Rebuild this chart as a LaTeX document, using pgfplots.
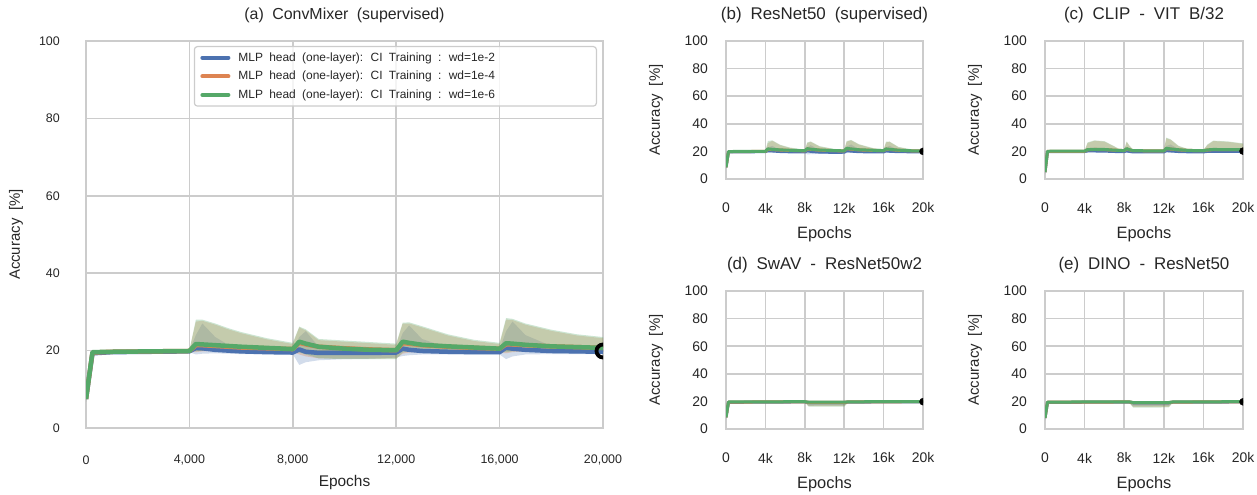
\documentclass[border=0pt]{standalone}
\usepackage{fontspec}
\setmainfont{Liberation Sans}[WordSpace=1.9]
\usepackage{pgfplots}
\usepackage{pgfplotstable}
\pgfplotsset{compat=1.18}
\usepgfplotslibrary{fillbetween}

\definecolor{sbblue}{HTML}{4C72B0}
\definecolor{sborange}{HTML}{DD8452}
\definecolor{sbgreen}{HTML}{55A868}
\definecolor{gridgray}{HTML}{CCCCCC}
\definecolor{txt}{HTML}{262626}

\pgfplotstableread{
x bm bl bu om ol ou gm gl gu
0 7.5 6.8 8.2 7.5 6.8 8.2 7.5 6.8 8.2
250 19.3 19.0 19.6 19.5 19.2 19.8 19.6 19.3 19.9
1000 19.6 19.4 19.8 19.7 19.5 19.9 19.7 19.5 19.9
4000 19.8 19.6 20.0 19.9 19.7 20.1 19.9 19.7 20.1
4250 20.7 19.0 24.0 21.4 19.6 27.5 21.7 19.8 28.0
4500 20.6 19.2 27.0 21.4 19.8 27.7 21.6 20.0 28.0
5000 20.2 19.3 23.5 21.2 19.9 26.7 21.4 20.1 27.0
5500 20.0 19.2 21.5 21.0 19.9 25.5 21.2 20.1 25.8
6000 19.8 19.1 20.8 20.8 19.8 24.5 21.0 20.0 24.8
7000 19.6 19.1 20.3 20.6 19.7 22.9 20.7 19.9 23.2
8000 19.5 19.1 20.2 20.4 19.6 21.7 20.4 19.8 22.0
8250 20.3 16.3 23.5 22.0 19.0 26.0 22.3 19.5 26.2
8500 19.7 17.0 25.0 21.6 18.5 25.2 21.8 19.0 25.5
9000 19.4 17.5 21.0 21.0 18.0 22.7 21.0 18.0 23.0
10000 19.4 17.8 20.3 20.6 17.9 22.3 20.5 17.8 22.6
11000 19.4 17.9 20.2 20.3 17.9 21.9 20.2 17.8 22.2
12000 19.5 18.2 20.2 20.1 18.0 21.5 20.1 17.8 21.8
12250 20.5 18.6 24.5 21.9 19.2 27.0 22.3 19.5 27.2
12500 20.2 18.8 26.5 21.8 19.5 27.0 22.0 19.8 27.3
13000 19.9 19.0 23.0 21.4 19.7 26.0 21.5 19.9 26.3
14000 19.7 19.0 20.8 21.0 19.6 23.9 21.1 19.8 24.2
15000 19.6 19.0 20.4 20.7 19.5 22.5 20.8 19.7 22.8
16000 19.6 19.0 20.3 20.5 19.5 21.7 20.5 19.6 22.0
16250 20.8 17.8 25.0 21.6 19.3 28.0 21.9 19.6 28.4
16500 20.5 18.5 27.5 21.6 19.6 27.9 21.8 19.8 28.2
17000 20.2 19.0 24.0 21.4 19.8 26.7 21.5 20.0 27.0
18000 19.9 19.1 21.2 21.1 19.8 25.1 21.1 20.0 25.4
19000 19.8 19.1 20.6 20.9 19.7 23.9 20.9 19.9 24.2
20000 19.7 19.1 20.4 20.7 19.7 23.2 20.7 19.9 23.5
}\tA

\pgfplotstableread{
x bm bl bu om ol ou gm gl gu
0 8.5 7.5 9.5 8.5 7.5 9.5 8.5 7.5 9.5
250 19.6 19.2 20.0 19.8 19.4 20.2 19.9 19.5 20.3
4000 19.8 19.4 20.2 20.0 19.6 20.4 20.1 19.7 20.5
4250 20.5 19.0 23.0 21.5 19.8 26.0 21.8 20.0 27.5
4700 20.3 19.2 24.0 21.3 19.9 27.7 21.5 20.1 28.0
5500 19.9 19.0 21.0 21.0 19.8 24.5 21.1 20.0 24.8
6500 19.7 19.0 20.5 20.7 19.7 22.5 20.8 19.9 22.8
8000 19.6 19.0 20.2 20.4 19.6 21.0 20.5 19.8 21.3
8250 20.5 17.8 23.0 21.8 19.3 26.0 22.0 19.5 26.5
8600 20.0 18.0 24.5 21.5 19.4 26.9 21.6 19.6 27.2
9500 19.5 18.2 20.8 20.9 19.3 23.5 21.0 19.4 23.8
11000 19.3 18.3 20.3 20.5 19.2 21.5 20.6 19.3 21.8
12000 19.4 18.5 20.2 20.4 19.3 21.0 20.4 19.4 21.3
12250 20.5 18.8 23.5 21.9 19.6 27.0 22.2 19.8 27.5
12700 20.2 19.0 25.0 21.6 19.8 28.0 21.8 20.0 28.3
13500 19.8 19.0 21.5 21.1 19.8 24.9 21.2 19.9 25.2
15000 19.6 19.0 20.5 20.7 19.6 22.0 20.8 19.8 22.3
16000 19.6 19.0 20.3 20.5 19.6 21.2 20.6 19.7 21.5
16250 20.4 18.8 23.0 21.6 19.5 26.5 21.8 19.7 27.0
16600 20.1 19.0 24.0 21.4 19.7 26.9 21.5 19.9 27.2
17500 19.8 19.0 21.0 20.8 19.7 23.0 20.9 19.9 23.3
19000 19.7 19.1 20.4 20.4 19.7 21.0 20.4 19.8 21.3
20000 19.7 19.1 20.3 20.3 19.7 20.7 20.3 19.8 20.9
}\tB

\pgfplotstableread{
x bm bl bu om ol ou gm gl gu
0 5.0 3.5 6.5 5.0 3.5 6.5 5.0 3.5 6.5
250 19.8 19.4 20.2 20.0 19.6 20.4 20.1 19.7 20.5
4000 19.9 19.5 20.3 20.1 19.7 20.5 20.2 19.8 20.6
4300 20.3 19.4 22.0 21.2 19.9 26.0 21.3 20.0 26.5
5000 20.3 19.5 22.5 21.4 20.0 27.7 21.5 20.1 28.0
6000 20.2 19.5 22.0 21.3 20.0 27.1 21.4 20.1 27.4
6800 20.0 19.4 21.0 21.0 19.9 24.2 21.0 20.0 24.5
7500 19.8 19.3 20.5 20.7 19.8 21.5 20.7 19.9 21.8
8000 19.8 19.3 20.4 20.6 19.8 21.1 20.6 19.9 21.4
8250 20.4 19.0 22.5 21.8 19.8 26.9 22.0 20.0 27.2
8500 20.0 19.0 21.5 21.2 19.6 24.2 21.3 19.8 24.5
8900 19.6 18.8 20.4 20.5 19.4 21.0 20.5 19.5 21.3
12000 19.6 18.9 20.3 20.4 19.5 20.8 20.4 19.6 21.0
12250 20.6 19.0 24.0 22.0 19.8 29.5 22.2 20.0 30.0
12700 20.3 19.2 25.0 21.7 19.9 28.4 21.8 20.0 28.7
13500 19.9 19.2 21.5 21.1 19.8 23.7 21.2 19.9 24.0
14500 19.7 19.2 20.5 20.7 19.7 21.3 20.7 19.8 21.6
16000 19.6 19.2 20.2 20.5 19.7 20.8 20.5 19.8 21.0
16400 20.0 19.3 21.0 21.0 19.8 24.5 21.1 19.9 25.0
17000 20.1 19.4 21.5 21.3 19.9 27.5 21.4 20.0 27.8
18500 20.0 19.4 21.2 21.3 19.9 26.9 21.3 20.0 27.2
20000 19.9 19.4 20.8 21.2 19.9 25.5 21.2 20.0 25.8
}\tC

\pgfplotstableread{
x bm bl bu om ol ou gm gl gu
0 8.5 7.0 10.0 8.5 7.0 10.0 8.5 7.0 10.0
250 19.3 18.8 19.8 19.5 19.0 20.0 19.6 19.1 20.1
4000 19.5 19.0 20.0 19.6 19.1 20.1 19.7 19.2 20.2
8000 19.6 19.1 20.1 19.7 19.2 20.2 19.8 19.3 20.3
8400 19.2 17.0 20.0 19.3 16.5 20.1 19.4 16.2 20.2
12000 19.2 17.2 20.0 19.3 16.6 20.1 19.4 16.2 20.2
12400 19.5 19.0 20.0 19.6 19.1 20.1 19.7 19.2 20.2
16000 19.6 19.1 20.1 19.7 19.2 20.2 19.8 19.3 20.3
20000 19.7 19.2 20.2 19.8 19.3 20.3 19.9 19.4 20.4
}\tD

\pgfplotstableread{
x bm bl bu om ol ou gm gl gu
0 8.0 6.5 9.5 8.0 6.5 9.5 8.0 6.5 9.5
250 19.2 18.7 19.7 19.4 18.9 19.9 19.5 19.0 20.0
4000 19.4 18.9 19.9 19.5 19.0 20.0 19.6 19.1 20.1
8500 19.5 19.0 20.0 19.6 19.1 20.1 19.7 19.2 20.2
8900 19.0 16.5 19.9 19.1 16.0 20.0 19.2 15.5 20.1
12500 19.0 16.8 19.9 19.1 16.0 20.0 19.2 15.6 20.1
12900 19.4 18.9 19.9 19.5 19.0 20.0 19.6 19.1 20.1
16000 19.5 19.0 20.0 19.6 19.1 20.1 19.7 19.2 20.2
20000 19.6 19.1 20.1 19.7 19.2 20.2 19.8 19.3 20.3
}\tE

\pgfplotsset{
  sb/.style={
    scale only axis, xmin=0, xmax=20000, ymin=0, ymax=100,
    xtick={0,4000,8000,12000,16000,20000}, ytick={0,20,40,60,80,100},
    scaled x ticks=false,
    grid=major, major grid style={draw=gridgray, line width=1.6bp},
    axis line style={draw=gridgray, line width=1.6bp},
    major tick length=0pt,
    /pgf/number format/assume math mode=true,
    tick label style={font=\fontsize{12.5}{15}\selectfont, text=txt},
    every axis title/.style={at={(0.5,1)}, anchor=center, yshift=26bp, font=\fontsize{16}{19}\selectfont, text=txt},
    every axis x label/.style={at={(0.5,0)}, anchor=center, yshift=-55bp, font=\fontsize{15.5}{18}\selectfont, text=txt},
    every axis y label/.style={at={(0,0.5)}, xshift=-70bp, rotate=90, anchor=center, font=\fontsize{15}{18}\selectfont, text=txt},
    xlabel={Epochs}, ylabel={Accuracy [\%]},
    clip marker paths=true,
  },
  small/.style={sb, width=197bp, height=138bp,
    xticklabels={0,4k,8k,12k,16k,20k},
    tick label style={font=\fontsize{14}{16}\selectfont, text=txt},
    every axis title/.append style={font=\fontsize{17}{20}\selectfont},
    every axis x label/.append style={font=\fontsize{16.5}{19}\selectfont},
    yticklabel style={anchor=east, inner sep=0pt, xshift=-18bp},
    xticklabel style={anchor=center, inner sep=0pt, yshift=-29bp},
  },
}

\newcommand{\bands}[1]{%
  \addplot[name path=bU, draw=none, forget plot] table[x=x,y=bu]{#1};
  \addplot[name path=bL, draw=none, forget plot] table[x=x,y=bl]{#1};
  \addplot[sbblue, fill opacity=0.25, draw=none, forget plot] fill between[of=bU and bL];
  \addplot[name path=oU, draw=none, forget plot] table[x=x,y=ou]{#1};
  \addplot[name path=oL, draw=none, forget plot] table[x=x,y=ol]{#1};
  \addplot[sborange, fill opacity=0.3, draw=none, forget plot] fill between[of=oU and oL];
  \addplot[name path=gU, draw=none, forget plot] table[x=x,y=gu]{#1};
  \addplot[name path=gL, draw=none, forget plot] table[x=x,y=gl]{#1};
  \addplot[sbgreen, fill opacity=0.3, draw=none, forget plot] fill between[of=gU and gL];
}
\newcommand{\lines}[2]{%
  \addplot[sbblue, line width=#2, line join=round, no marks] table[x=x,y=bm]{#1};
  \addplot[sborange, line width=#2, line join=round, no marks] table[x=x,y=om]{#1};
  \addplot[sbgreen, line width=#2, line join=round, no marks] table[x=x,y=gm]{#1};
}

\begin{document}
\begin{tikzpicture}
\path (0,0) rectangle (1257bp,495bp);

\begin{axis}[sb, at={(86bp,67bp)}, anchor=south west, width=517bp, height=387bp,
  title={(a) ConvMixer (supervised)},
  xticklabels={0,{4,000},{8,000},{12,000},{16,000},{20,000}},
  yticklabel style={anchor=east, inner sep=0pt, xshift=-26bp},
  xticklabel style={anchor=center, inner sep=0pt, yshift=-32bp},
  legend style={at={(1,1)}, anchor=north east, xshift=-6bp, yshift=-5bp,
    draw=gridgray, line width=1.2bp, rounded corners=3bp, fill=white, fill opacity=0.8, text opacity=1,
    font=\fontsize{12}{14}\selectfont, text=txt, row sep=8.5bp, column sep=8bp, inner sep=6bp,
    nodes={inner sep=0bp}},
  legend cell align=left,
  legend image code/.code={\draw[#1, line width=4bp, line cap=round] (2bp,0bp) -- (28bp,0bp);},
]
\bands{\tA}
\lines{\tA}{4.5bp}
\addplot[only marks, mark=o, mark size=6.5bp, mark options={line width=3.8bp, draw=black}, forget plot] coordinates {(20000,19.9)};
\legend{\makebox[352bp][l]{MLP head (one-layer): CI Training : wd=1e-2},
        \makebox[352bp][l]{MLP head (one-layer): CI Training : wd=1e-4},
        \makebox[352bp][l]{MLP head (one-layer): CI Training : wd=1e-6}}
\end{axis}

\begin{axis}[small, at={(726bp,316bp)}, anchor=south west, title={(b) ResNet50 (supervised)}]
\bands{\tB}
\lines{\tB}{3bp}
\addplot[only marks, mark=*, mark size=3.5bp, black, forget plot] coordinates {(20000,20)};
\end{axis}

\begin{axis}[small, at={(1045bp,316bp)}, anchor=south west, width=198bp, title={(c) CLIP - VIT B/32}]
\bands{\tC}
\lines{\tC}{3bp}
\addplot[only marks, mark=*, mark size=3.5bp, black, forget plot] coordinates {(20000,20.2)};
\end{axis}

\begin{axis}[small, at={(726bp,66bp)}, anchor=south west, title={(d) SwAV - ResNet50w2}]
\bands{\tD}
\lines{\tD}{3bp}
\addplot[only marks, mark=*, mark size=3.5bp, black, forget plot] coordinates {(20000,19.8)};
\end{axis}

\begin{axis}[small, at={(1045bp,66bp)}, anchor=south west, width=198bp, title={(e) DINO - ResNet50}]
\bands{\tE}
\lines{\tE}{3bp}
\addplot[only marks, mark=*, mark size=3.5bp, black, forget plot] coordinates {(20000,19.7)};
\end{axis}
\end{tikzpicture}
\end{document}
